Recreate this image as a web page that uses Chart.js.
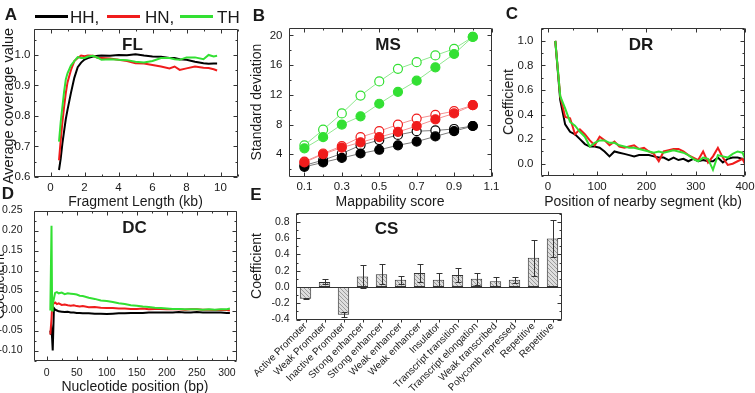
<!DOCTYPE html>
<html>
<head>
<meta charset="utf-8">
<script src="https://cdn.jsdelivr.net/npm/chart.js@4.4.1/dist/chart.umd.min.js"></script>
<style>
html,body{margin:0;padding:0;background:#fff;}
#fig{position:relative;width:755px;height:393px;overflow:hidden;font-family:"Liberation Sans",Arial,sans-serif;color:#1a1a1a;}
#fig canvas{position:absolute;left:0;top:0;}
.t{position:absolute;white-space:nowrap;line-height:1;transform:translate(-50%,-50%);}
.t.v{transform:translate(-50%,-50%) rotate(-90deg);}
.t.l{transform:translate(0,-50%);}
.b{font-weight:bold;}
.sw{position:absolute;height:0;}
</style>
</head>
<body>
<div id="fig">
<canvas id="cA" width="755" height="393"></canvas>
<canvas id="cB" width="755" height="393"></canvas>
<canvas id="cC" width="755" height="393"></canvas>
<canvas id="cD" width="755" height="393"></canvas>
<canvas id="cE" width="755" height="393"></canvas>
</div>
<script>
// ================= DATA =================
const seriesNames = ['HH,', 'HN,', 'TH'];

// A: FL - average coverage vs fragment length (kb)
const flX  = [0.5,0.6,0.7,0.8,0.9,1.0,1.2,1.4,1.6,1.8,2.0,2.2,2.5,2.8,3.0,3.5,4.0,4.5,5.0,5.5,6.0,6.5,7.0,7.3,7.6,8.0,8.5,9.0,9.3,9.6,9.8];
const flHH = [0.623,0.66,0.71,0.75,0.79,0.82,0.875,0.925,0.96,0.975,0.985,0.99,0.995,0.997,0.998,0.997,1.0,0.999,1.002,0.998,0.995,0.994,0.99,0.99,0.986,0.984,0.978,0.973,0.971,0.972,0.972];
const flHN = [0.655,0.72,0.78,0.83,0.875,0.91,0.95,0.98,0.99,0.998,0.996,0.998,0.997,0.99,0.99,0.988,0.984,0.98,0.973,0.972,0.967,0.962,0.956,0.962,0.951,0.956,0.962,0.958,0.957,0.953,0.949];
const flTH = [0.716,0.78,0.83,0.88,0.92,0.94,0.965,0.98,0.993,0.99,0.99,0.995,0.997,0.99,0.984,0.986,0.984,0.983,0.978,0.975,0.98,0.99,0.99,0.986,0.984,0.992,0.992,0.986,1.0,0.995,0.997];
const flXTicks = ['0','2','4','6','8','10'];
const flYTicks = ['0.6','0.7','0.8','0.9','1.0'];

// B: MS - standard deviation vs mappability score
const msX = [0.1,0.2,0.3,0.4,0.5,0.6,0.7,0.8,0.9,1.0];
const msTHopen = [5.2,7.3,9.5,11.9,13.8,15.5,16.4,17.3,18.2,19.8];
const msTHfill = [4.8,6.3,8.0,9.1,10.8,12.4,13.9,15.7,17.5,19.8];
const msHNopen = [3.0,4.1,5.1,6.3,7.1,8.0,8.8,9.3,9.8,10.6];
const msHNfill = [2.9,4.0,4.9,5.6,6.3,7.0,7.8,8.7,9.5,10.6];
const msHHopen = [2.5,3.2,4.1,5.2,5.9,6.6,7.1,7.2,7.4,7.8];
const msHHfill = [2.3,2.9,3.5,4.1,4.6,5.2,5.7,6.4,7.1,7.8];
const msXTicks = ['0.1','0.3','0.5','0.7','0.9','1.1'];
const msYTicks = ['4','8','12','16','20'];

// C: DR - coefficient vs position of nearby segment (kb)
const drX  = [15,25,35,45,55,65,75,85,95,105,115,125,135,145,155,165,175,185,195,205,215,225,235,245,255,265,275,285,295,305,315,325,335,345,355,365,375,385,395,402];
const drTH = [1.0,0.55,0.45,0.34,0.31,0.26,0.22,0.14,0.17,0.19,0.19,0.17,0.17,0.15,0.14,0.13,0.13,0.12,0.11,0.10,0.09,0.10,0.09,0.10,0.11,0.10,0.09,0.07,0.04,0.02,0.05,0.04,-0.05,0.07,0.06,0.05,0.08,0.10,0.09,0.02];
const drHN = [1.0,0.55,0.38,0.37,0.24,0.28,0.24,0.19,0.15,0.22,0.19,0.15,0.18,0.14,0.13,0.14,0.15,0.12,0.13,0.10,0.08,0.02,0.10,0.11,0.12,0.12,0.10,0.07,0.05,0.03,0.10,0.01,0.06,0.13,0.05,-0.01,0.0,0.02,0.04,-0.02];
const drHH = [1.0,0.52,0.32,0.26,0.24,0.20,0.16,0.14,0.14,0.13,0.10,0.06,0.10,0.09,0.08,0.07,0.06,0.07,0.07,0.07,0.06,0.05,0.05,0.03,0.05,0.03,0.04,0.02,0.04,0.02,0.03,0.02,0.02,0.05,0.01,0.04,0.05,0.05,0.04,0.01];
const drXTicks = ['0','100','200','300','400'];
const drYTicks = ['0.0','0.2','0.4','0.6','0.8','1.0'];

// D: DC - coefficient vs nucleotide position (bp)
const dcX  = [6,7,8,9,10,12,14,17,20,25,30,35,40,45,50,55,60,70,80,90,100,110,120,130,140,150,160,170,180,190,200,210,220,230,240,250,260,270,280,290,300,305];
const dcTH = [0.0,0.0,0.212,0.0,0.015,0.03,0.044,0.046,0.043,0.045,0.041,0.043,0.042,0.041,0.040,0.037,0.036,0.032,0.029,0.025,0.024,0.021,0.018,0.016,0.013,0.012,0.010,0.009,0.007,0.006,0.005,0.004,0.004,0.003,0.003,0.003,0.002,0.003,0.002,0.003,0.003,0.005];
const dcHN = [-0.06,-0.06,-0.02,0.01,0.015,0.018,0.020,0.016,0.018,0.014,0.015,0.013,0.012,0.013,0.011,0.010,0.011,0.008,0.009,0.007,0.006,0.006,0.005,0.005,0.004,0.004,0.005,0.003,0.004,0.004,0.003,0.004,0.003,0.002,0.003,0.003,0.002,0.002,0.001,0.002,0.001,0.000];
const dcHH = [-0.05,-0.06,-0.05,-0.07,-0.1,0.006,0.002,0.0,-0.002,-0.003,-0.004,-0.003,-0.005,-0.005,-0.006,-0.006,-0.007,-0.007,-0.008,-0.008,-0.009,-0.008,-0.007,-0.007,-0.006,-0.006,-0.006,-0.005,-0.005,-0.005,-0.005,-0.005,-0.004,-0.005,-0.005,-0.004,-0.005,-0.005,-0.005,-0.005,-0.006,-0.006];
const dcXTicks = ['0','50','100','150','200','250','300'];
const dcYTicks = ['-0.10','-0.05','0.00','0.05','0.10','0.15','0.20','0.25'];

// E: CS - coefficient per chromatin state
const csLabels = ['Active Promoter','Weak Promoter','Inactive Promoter','Strong enhancer','Strong enhancer','Weak enhancer','Weak enhancer','Insulator','Transcript transition','Transcript elongation','Weak transcribed','Polycomb repressed','Repetitive','Repetitive'];
const csVal = [-0.144,0.062,-0.342,0.128,0.157,0.087,0.173,0.087,0.148,0.10,0.07,0.087,0.359,0.594];
const csErr = [0.006,0.03,0.03,0.138,0.12,0.05,0.107,0.086,0.09,0.07,0.058,0.033,0.22,0.23];
const csYTicks = ['-0.4','-0.2','0.0','0.2','0.4','0.6','0.8'];

// ================= STYLE / LAYOUT =================
const W = 755, H = 393;
const cBlack = '#000000', cRed = '#f01c1c', cGreen = '#33e033';
const txt = '#1a1a1a';
Chart.defaults.font.family = '"Liberation Sans", Arial, sans-serif';
Chart.defaults.color = txt;

const gA = {L:33.5, R:237.5, T:29, B:177};
const gB = {L:288.5, R:491.5, T:28, B:176.5};
const gC = {L:541, R:745, T:28, B:176};
const gD = {L:33.5, R:236.5, T:210.5, B:360.5};
const gE = {L:296, R:562, T:212.5, B:319.5};

const fitY = w => s => { s.width = w; s.paddingTop = 0; s.paddingBottom = 0; };
const fitX = h => s => { s.height = h; s.paddingLeft = 0; s.paddingRight = 0; };
const noGrid = { display: false, drawTicks: false, tickLength: 0 };

function linAxis(min, max, labels, size, pad, fit) {
  return {
    type: 'linear', min: min, max: max,
    afterBuildTicks: s => { s.ticks = labels.map(l => ({value: parseFloat(l)})); },
    ticks: { callback: (v, i) => labels[i], font: {size: size}, padding: pad, autoSkip: false, maxRotation: 0, color: txt },
    grid: noGrid, border: { display: false },
    afterFit: fit
  };
}

function opts(g, xAxis, yAxis, frame) {
  return {
    responsive: false, animation: false, devicePixelRatio: 1,
    layout: { padding: { left: 0, top: g.T, right: W - g.R, bottom: 0 } },
    plugins: { legend: { display: false }, tooltip: { enabled: false }, frame: frame || {} },
    scales: { x: xAxis, y: yAxis }
  };
}

function lineSet(xs, ys, color, width) {
  return { data: xs.map((x, i) => ({x: x, y: ys[i]})), borderColor: color, borderWidth: width,
           pointRadius: 0, tension: 0, fill: false };
}
function markSet(xs, ys, lineColor, markColor, filled) {
  return { data: xs.map((x, i) => ({x: x, y: ys[i]})), borderColor: lineColor, borderWidth: 1,
           pointRadius: 4.5, pointBorderWidth: 1.2, pointBorderColor: markColor,
           pointBackgroundColor: filled ? markColor : '#ffffff', tension: 0, fill: false };
}

// frame + inward tick marks (Origin style)
const framePlugin = {
  id: 'frame',
  afterDatasetsDraw(chart, args, o) {
    const {ctx, chartArea: a} = chart;
    const xs = chart.scales.x, ys = chart.scales.y;
    const L = Math.round(a.left) + 0.5, R = Math.round(a.right) - 0.5;
    const T = Math.round(a.top) + 0.5, B = Math.round(a.bottom) - 0.5;
    ctx.save();
    ctx.strokeStyle = '#333';
    ctx.lineWidth = 1;
    ctx.beginPath();
    if (o.zero) {
      const zy = Math.round(ys.getPixelForValue(0)) + 0.5;
      ctx.moveTo(L, zy); ctx.lineTo(R, zy);
    }
    const minors = v => {
      if (v.length < 2) return [];
      const st = v[1] - v[0];
      return [v[0] - st / 2].concat(v.map(x => x + st / 2));
    };
    const xT = (vals, len) => vals.forEach(v => {
      if (v < xs.min || v > xs.max) return;
      const px = Math.round(xs.getPixelForValue(v)) + 0.5;
      ctx.moveTo(px, B); ctx.lineTo(px, B - len);
      ctx.moveTo(px, T); ctx.lineTo(px, T + len);
    });
    const yT = (vals, len) => vals.forEach(v => {
      if (v < ys.min || v > ys.max) return;
      const py = Math.round(ys.getPixelForValue(v)) + 0.5;
      ctx.moveTo(L, py); ctx.lineTo(L + len, py);
      ctx.moveTo(R, py); ctx.lineTo(R - len, py);
    });
    if (!o.category) {
      const xv = xs.ticks.map(t => t.value);
      xT(xv, 4); xT(minors(xv), 2);
    } else {
      xs.ticks.forEach((t, i) => {
        const px = Math.round(xs.getPixelForTick(i)) + 0.5;
        ctx.moveTo(px, B); ctx.lineTo(px, B + 3);
      });
    }
    const yv = ys.ticks.map(t => t.value);
    yT(yv, 4); yT(minors(yv), 2);
    ctx.rect(L, T, R - L, B - T);
    ctx.stroke();
    ctx.restore();
  }
};

// error bars for the CS bar chart
const errPlugin = {
  id: 'errbars',
  afterDatasetsDraw(chart, args, o) {
    if (!o.err) return;
    const {ctx} = chart;
    const ys = chart.scales.y;
    const meta = chart.getDatasetMeta(0);
    const vals = chart.data.datasets[0].data;
    ctx.save();
    ctx.strokeStyle = '#333'; ctx.lineWidth = 1;
    ctx.beginPath();
    meta.data.forEach((bar, i) => {
      const x = Math.round(bar.x) + 0.5;
      const lo = Math.round(ys.getPixelForValue(vals[i] - o.err[i])) + 0.5;
      const hi = Math.round(ys.getPixelForValue(vals[i] + o.err[i])) + 0.5;
      ctx.moveTo(x, lo); ctx.lineTo(x, hi);
      ctx.moveTo(x - 3, lo); ctx.lineTo(x + 3, lo);
      ctx.moveTo(x - 3, hi); ctx.lineTo(x + 3, hi);
    });
    ctx.stroke();
    ctx.restore();
  }
};

function hatch() {
  const c = document.createElement('canvas');
  c.width = 4; c.height = 4;
  const g = c.getContext('2d');
  g.fillStyle = '#dedede'; g.fillRect(0, 0, 4, 4);
  g.strokeStyle = '#9c9c9c'; g.lineWidth = 1;
  g.beginPath(); g.moveTo(0, 0); g.lineTo(4, 4); g.stroke();
  return g.createPattern(c, 'repeat');
}

// ================= CHARTS =================
new Chart(document.getElementById('cA'), {
  type: 'line',
  data: { datasets: [ lineSet(flX, flTH, cGreen, 2), lineSet(flX, flHN, cRed, 2), lineSet(flX, flHH, cBlack, 2) ] },
  options: opts(gA, linAxis(-1, 11, flXTicks, 11.5, 4, fitX(H - gA.B)), linAxis(0.6, 1.085, flYTicks, 11.5, 3, fitY(gA.L))),
  plugins: [framePlugin]
});

new Chart(document.getElementById('cB'), {
  type: 'line',
  data: { datasets: [
    markSet(msX, msTHfill, '#8fe88f', cGreen, true),
    markSet(msX, msTHopen, '#8fe88f', cGreen, false),
    markSet(msX, msHNfill, '#f59090', cRed, true),
    markSet(msX, msHNopen, '#f59090', cRed, false),
    markSet(msX, msHHfill, '#7a7a7a', cBlack, true),
    markSet(msX, msHHopen, '#7a7a7a', cBlack, false)
  ] },
  options: opts(gB, linAxis(0.015, 1.1, msXTicks, 11.5, 3.5, fitX(H - gB.B)), linAxis(1, 21, msYTicks, 11.5, 6, fitY(gB.L))),
  plugins: [framePlugin]
});

new Chart(document.getElementById('cC'), {
  type: 'line',
  data: { datasets: [ lineSet(drX, drTH, cGreen, 2), lineSet(drX, drHN, cRed, 2), lineSet(drX, drHH, cBlack, 2) ] },
  options: opts(gC, linAxis(-14, 400, drXTicks, 11.5, 4, fitX(H - gC.B)), linAxis(-0.1, 1.105, drYTicks, 11.5, 7.5, fitY(gC.L))),
  plugins: [framePlugin]
});

new Chart(document.getElementById('cD'), {
  type: 'line',
  data: { datasets: [ lineSet(dcX, dcTH, cGreen, 2), lineSet(dcX, dcHN, cRed, 2), lineSet(dcX, dcHH, cBlack, 2) ] },
  options: opts(gD, linAxis(-22, 316, dcXTicks, 10.5, 6, fitX(H - gD.B)), linAxis(-0.125, 0.25, dcYTicks, 10.5, 11, fitY(gD.L))),
  plugins: [framePlugin]
});

const eOpts = opts(gE, {
    type: 'category', offset: true,
    ticks: { font: {size: 10}, autoSkip: false, maxRotation: 45, minRotation: 45, padding: 1, color: txt },
    grid: noGrid, border: { display: false },
    afterFit: fitX(H - gE.B)
  }, linAxis(-0.4, 0.915, csYTicks, 10.5, 6.5, fitY(gE.L)), { zero: true, category: true });
eOpts.plugins.errbars = { err: csErr };
new Chart(document.getElementById('cE'), {
  type: 'bar',
  data: { labels: csLabels, datasets: [ {
    data: csVal, backgroundColor: hatch(), borderColor: '#333', borderWidth: 1,
    borderSkipped: false, barPercentage: 0.6, categoryPercentage: 1.0
  } ] },
  options: eOpts,
  plugins: [errPlugin, framePlugin]
});

// ================= TEXT (panel letters, titles, axis titles, legend) =================
const fig = document.getElementById('fig');
function addText(s, x, y, size, cls) {
  const d = document.createElement('div');
  d.className = 't ' + (cls || '');
  d.style.left = x + 'px'; d.style.top = y + 'px'; d.style.fontSize = size + 'px';
  d.textContent = s;
  fig.appendChild(d);
}
[['A',11,14],['B',259,15],['C',512,13],['D',8,193],['E',256,194]].forEach(p => addText(p[0], p[1], p[2], 17, 'b'));
[['FL',132.5,43.5],['MS',388,43.5],['DR',641,43.5],['DC',134.5,227],['CS',386.5,227.5]].forEach(p => addText(p[0], p[1], p[2], 17, 'b'));
addText('Fragment Length (kb)', 135.5, 201, 14);
addText('Average coverage value', 8, 106, 14.5, 'v');
addText('Mappability score', 390, 201, 14);
addText('Standard deviation', 256, 102, 14, 'v');
addText('Position of nearby segment (kb)', 643, 201, 14);
addText('Coefficient', 508, 102, 14, 'v');
addText('Nucleotide position (bp)', 135, 386, 14);
addText('Coefficient', -1, 285.5, 14, 'v');
addText('Coefficient', 256, 266, 14, 'v');

// legend
const legColors = [cBlack, cRed, cGreen];
const legPos = [[35, 70], [107, 145], [180, 217]];
seriesNames.forEach((n, i) => {
  const sw = document.createElement('div');
  sw.className = 'sw';
  sw.style.left = legPos[i][0] + 'px'; sw.style.top = '15px';
  sw.style.width = '33px'; sw.style.borderTop = '3px solid ' + legColors[i];
  fig.appendChild(sw);
  addText(n, legPos[i][1], 16.5, 17, 'l');
});
</script>
</body>
</html>
